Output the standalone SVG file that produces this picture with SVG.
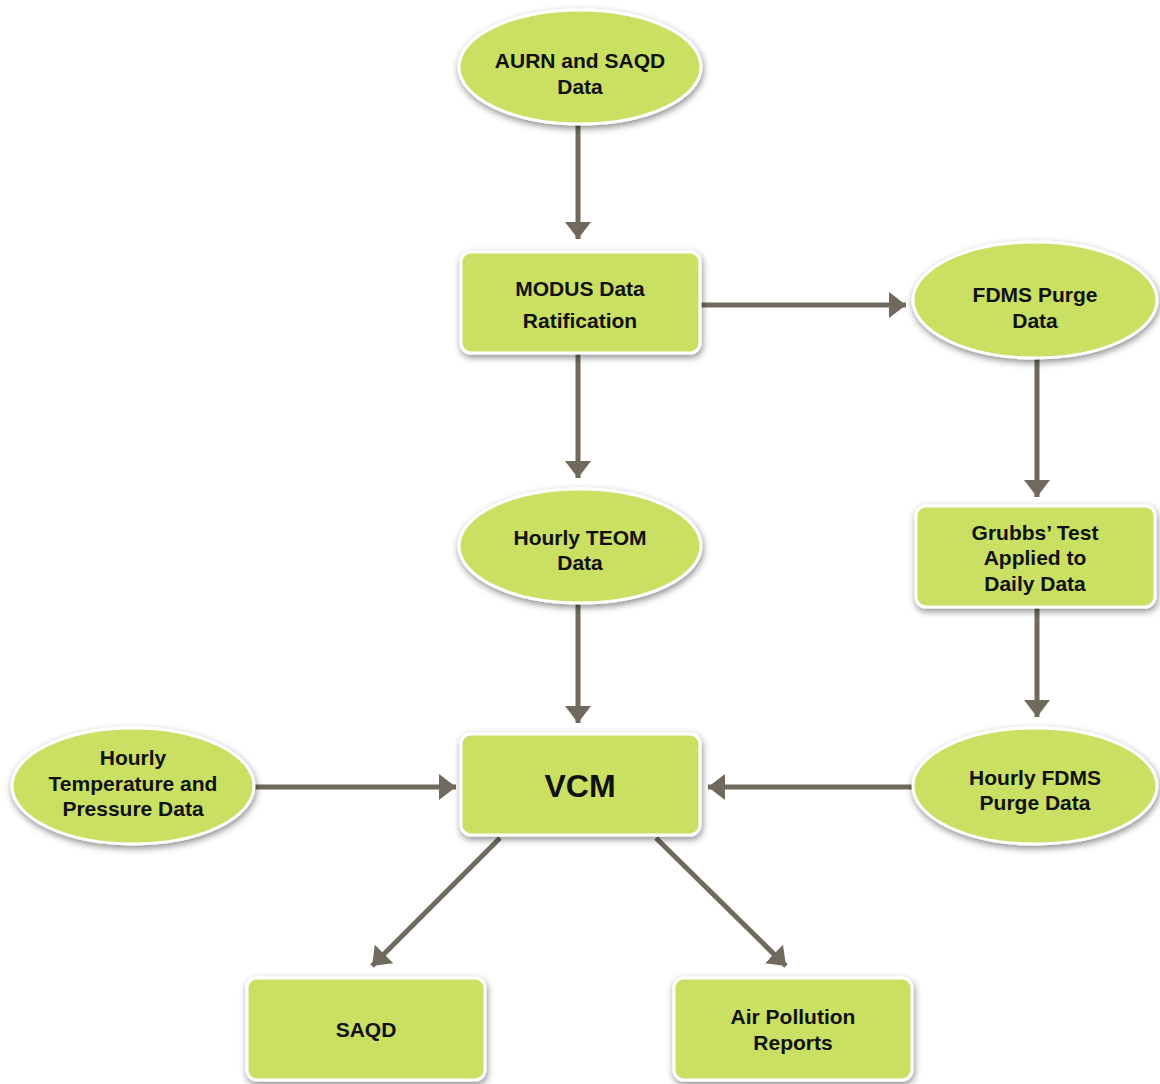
<svg xmlns="http://www.w3.org/2000/svg" width="1160" height="1084" viewBox="0 0 1160 1084">
<defs>
<filter id="sh" x="-20%" y="-20%" width="140%" height="150%">
<feDropShadow dx="1" dy="3" stdDeviation="3.5" flood-color="#000" flood-opacity="0.45"/>
</filter>
<marker id="ah" viewBox="0 0 17 26" refX="17" refY="13" markerWidth="17" markerHeight="26" markerUnits="userSpaceOnUse" orient="auto">
<path d="M0,0 L17,13 L0,26 Z" fill="#6f6a5d"/>
</marker>
<style>
.n{fill:#c9e063;stroke:#fff;stroke-width:3;filter:url(#sh)}
.t{font-family:"Liberation Sans",Arial,Helvetica,sans-serif;font-weight:bold;font-size:21px;fill:#111;text-anchor:middle}
.c{stroke:#6f6a5d;stroke-width:5;fill:none;marker-end:url(#ah)}
</style>
</defs>
<rect width="1160" height="1084" fill="#fff"/>
<g id="connectors">
<line class="c" x1="578" y1="124" x2="578" y2="239"/>
<line class="c" x1="700" y1="305" x2="906" y2="305"/>
<line class="c" x1="578" y1="353" x2="578" y2="478"/>
<line class="c" x1="1037" y1="359" x2="1037" y2="497"/>
<line class="c" x1="1037" y1="607" x2="1037" y2="717"/>
<line class="c" x1="578" y1="603" x2="578" y2="723"/>
<line class="c" x1="255" y1="787" x2="456" y2="787"/>
<line class="c" x1="913" y1="787" x2="708" y2="787"/>
<line class="c" x1="500" y1="838" x2="372" y2="966"/>
<line class="c" x1="656" y1="838" x2="786" y2="966"/>
</g>
<g id="aurn">
<ellipse class="n" cx="580" cy="67" rx="121" ry="57"/>
<text class="t" x="580" y="68">AURN and SAQD</text>
<text class="t" x="580" y="94">Data</text>
</g>
<g id="modus">
<rect class="n" x="461" y="252" width="239" height="101" rx="10"/>
<text class="t" x="580" y="296">MODUS Data</text>
<text class="t" x="580" y="328">Ratification</text>
</g>
<g id="fdms-purge">
<ellipse class="n" cx="1035" cy="300" rx="122" ry="58"/>
<text class="t" x="1035" y="302">FDMS Purge</text>
<text class="t" x="1035" y="328">Data</text>
</g>
<g id="teom">
<ellipse class="n" cx="580" cy="546" rx="121" ry="57"/>
<text class="t" x="580" y="545">Hourly TEOM</text>
<text class="t" x="580" y="570">Data</text>
</g>
<g id="grubbs">
<rect class="n" x="916" y="506" width="239" height="101" rx="10"/>
<text class="t" x="1035" y="540">Grubbs’ Test</text>
<text class="t" x="1035" y="565">Applied to</text>
<text class="t" x="1035" y="591">Daily Data</text>
</g>
<g id="temp">
<ellipse class="n" cx="133" cy="786" rx="121" ry="58"/>
<text class="t" x="133" y="765">Hourly</text>
<text class="t" x="133" y="791">Temperature and</text>
<text class="t" x="133" y="816">Pressure Data</text>
</g>
<g id="vcm">
<rect class="n" x="461" y="734" width="239" height="101" rx="10"/>
<text class="t" x="580" y="797" style="font-size:32px">VCM</text>
</g>
<g id="hourly-fdms">
<ellipse class="n" cx="1035" cy="786" rx="122" ry="58"/>
<text class="t" x="1035" y="785">Hourly FDMS</text>
<text class="t" x="1035" y="810">Purge Data</text>
</g>
<g id="saqd">
<rect class="n" x="247" y="978" width="238" height="102" rx="10"/>
<text class="t" x="366" y="1037">SAQD</text>
</g>
<g id="air">
<rect class="n" x="674" y="978" width="238" height="102" rx="10"/>
<text class="t" x="793" y="1024">Air Pollution</text>
<text class="t" x="793" y="1050">Reports</text>
</g>
</svg>
